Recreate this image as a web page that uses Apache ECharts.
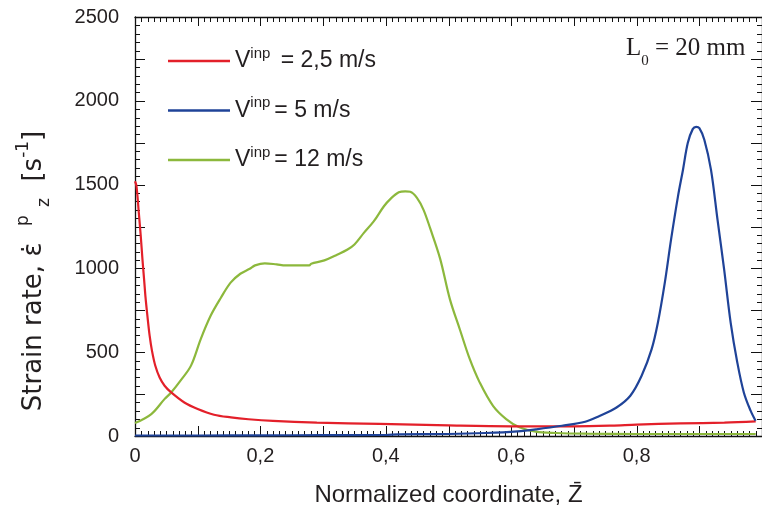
<!DOCTYPE html>
<html>
<head>
<meta charset="utf-8">
<script src="https://cdn.jsdelivr.net/npm/echarts@6/dist/echarts.min.js"></script>
<style>html,body{margin:0;padding:0;background:#fff}#c{width:762px;height:512px}</style>
</head>
<body>
<div id="c"></div>
<script>
// ---- data ----
const redX = [0, 0.0024, 0.0061, 0.0092, 0.0119, 0.0145, 0.0166, 0.0198, 0.0234, 0.0271, 0.0324, 0.0393, 0.0472, 0.0577, 0.0787, 0.100, 0.126, 0.153, 0.181, 0.22, 0.29, 0.39, 0.50, 0.60, 0.70, 0.76, 0.80, 0.87, 0.94, 0.99];
const redY = [1520, 1490, 1331, 1192, 1054, 935, 835, 716, 597, 508, 419, 349, 300, 260, 200, 161, 127, 111, 100, 90, 80, 72, 63, 58, 58, 62, 68, 75, 80, 87];

const blueX = [0, 0.1, 0.2, 0.3, 0.4, 0.42, 0.5, 0.56, 0.61, 0.64, 0.681, 0.718, 0.74, 0.768, 0.79, 0.808, 0.824, 0.834, 0.845, 0.855, 0.866, 0.874, 0.8816, 0.8895, 0.895, 0.9001, 0.908, 0.9186, 0.929, 0.9396, 0.950, 0.9606, 0.971, 0.9818, 0.9897];
const blueY = [3, 3, 4, 5, 6, 10, 12, 18, 28, 40, 61, 85, 118, 170, 240, 359, 518, 677, 915, 1173, 1430, 1589, 1748, 1831, 1845, 1837, 1768, 1589, 1292, 994, 677, 439, 260, 151, 91];

const greenX = [0, 0.026, 0.047, 0.0577, 0.0735, 0.0893, 0.105, 0.121, 0.137, 0.1525, 0.168, 0.183, 0.1915, 0.207, 0.226, 0.24, 0.26, 0.278, 0.281, 0.302, 0.323, 0.339, 0.35, 0.365, 0.381, 0.397, 0.4075, 0.4207, 0.431, 0.439, 0.4497, 0.46, 0.4707, 0.4865, 0.5023, 0.518, 0.534, 0.5497, 0.571, 0.592, 0.613, 0.639, 0.671, 0.72, 0.8, 0.9, 0.99];
const greenY = [77, 131, 220, 260, 335, 420, 580, 720, 825, 915, 968, 998, 1018, 1030, 1024, 1018, 1018, 1018, 1028, 1048, 1083, 1113, 1143, 1212, 1282, 1371, 1415, 1454, 1460, 1457, 1421, 1351, 1240, 1060, 815, 637, 458, 320, 180, 101, 52, 26, 18, 14, 12, 12, 12];

const seriesNames = ['V2.5', 'V5', 'V12'];
const legendValues = [' = 2,5 m/s', '= 5 m/s', '= 12 m/s'];
const seriesColors = ['#e3202a', '#1f4398', '#8cb83c'];

const xTickValues = [0, 0.2, 0.4, 0.6, 0.8];
const xTickLabels = ['0', '0,2', '0,4', '0,6', '0,8'];
const yTickValues = [0, 500, 1000, 1500, 2000, 2500];
const yTickLabels = ['0', '500', '1000', '1500', '2000', '2500'];

// axis ranges and tick spacing
const xRange = [0, 1], xMajorStep = 0.1, xMinorPerMajor = 10;
const yRange = [0, 2500], yMajorStep = 250, yMinorPerMajor = 5;

const zip = (xs, ys) => xs.map((x, i) => [x, ys[i]]);
const FONT = "'Liberation Sans', Arial, sans-serif";
const WIDE = "'DejaVu Sans', 'Liberation Sans', sans-serif";
const SERIF = "'Liberation Serif', 'Times New Roman', serif";
const TXT = '#231f20';
const TICK = '#111';

const chart = echarts.init(document.getElementById('c'), null, {renderer: 'canvas'});

function xLab(v) {
  const i = xTickValues.findIndex(t => Math.abs(t - v) < 1e-6);
  return i >= 0 ? xTickLabels[i] : '';
}
function yLab(v) {
  const i = yTickValues.findIndex(t => Math.abs(t - v) < 1e-6);
  return i >= 0 ? yTickLabels[i] : '';
}

// inside tick marks on all four sides, positioned through the axes' own scales
function renderFrameTicks(params, api) {
  const cs = params.coordSys;
  const left = cs.x, right = cs.x + cs.width, top = cs.y, bottom = cs.y + cs.height;
  const st = {stroke: TICK, lineWidth: 1};
  const kids = [];
  const nx = Math.round((xRange[1] - xRange[0]) / xMajorStep) * xMinorPerMajor;
  for (let i = 0; i <= nx; i++) {
    const v = xRange[0] + i * xMajorStep / xMinorPerMajor;
    const major = i % xMinorPerMajor === 0;
    const x = Math.round(api.coord([v, yRange[0]])[0]) + 0.5;
    kids.push({type: 'line', shape: {x1: x, y1: bottom, x2: x, y2: bottom - (major ? 10 : 5)}, style: st});
    kids.push({type: 'line', shape: {x1: x, y1: top, x2: x, y2: top + (major ? 9 : 5)}, style: st});
  }
  const ny = Math.round((yRange[1] - yRange[0]) / yMajorStep) * yMinorPerMajor;
  for (let j = 0; j <= ny; j++) {
    const v = yRange[0] + j * yMajorStep / yMinorPerMajor;
    const major = j % yMinorPerMajor === 0;
    const y = Math.round(api.coord([xRange[0], v])[1]) + 0.5;
    kids.push({type: 'line', shape: {x1: left, y1: y, x2: left + (major ? 10 : 5), y2: y}, style: st});
    kids.push({type: 'line', shape: {x1: right, y1: y, x2: right - (major ? 11 : 5), y2: y}, style: st});
  }
  return {type: 'group', children: kids};
}

function axisBase(extra) {
  return Object.assign({
    type: 'value',
    axisLine: {show: true, onZero: false, lineStyle: {color: TICK, width: 1.3}},
    axisTick: {show: false},
    minorTick: {show: false},
    splitLine: {show: false},
    minorSplitLine: {show: false}
  }, extra);
}

const option = {
  animation: false,
  backgroundColor: '#fff',
  grid: {left: 135, top: 17, width: 633, height: 420, containLabel: false},
  xAxis: [
    axisBase({
      min: xRange[0], max: xRange[1], interval: xMajorStep, position: 'bottom',
      axisLabel: {show: true, margin: 10, fontSize: 20, fontFamily: FONT, color: TXT, formatter: xLab, showMaxLabel: false},
      name: 'Normalized coordinate, Z\u0304', nameLocation: 'middle', nameGap: 47,
      nameTextStyle: {fontSize: 24, fontFamily: FONT, color: TXT}
    }),
    axisBase({
      min: xRange[0], max: xRange[1], interval: xMajorStep, position: 'top',
      axisLabel: {show: false}
    })
  ],
  yAxis: [
    axisBase({
      min: yRange[0], max: yRange[1], interval: yMajorStep, position: 'left',
      axisLabel: {show: true, margin: 16, fontSize: 20, fontFamily: FONT, color: TXT, formatter: yLab}
    }),
    axisBase({
      min: yRange[0], max: yRange[1], interval: yMajorStep, position: 'right',
      axisLabel: {show: false}
    })
  ],
  legend: {
    orient: 'vertical', left: 168, top: 46, padding: 0,
    itemWidth: 62, itemHeight: 2.5, itemGap: 23, icon: 'rect',
    data: seriesNames,
    formatter: function (name) {
      const i = seriesNames.indexOf(name);
      return '{v|V}{sup|inp}{t|' + legendValues[i] + '}';
    },
    textStyle: {
      fontFamily: FONT, color: TXT, fontSize: 23,
      rich: {
        v: {fontSize: 23, fontFamily: FONT, color: TXT, lineHeight: 30},
        sup: {fontSize: 15, fontFamily: FONT, color: TXT, lineHeight: 14, verticalAlign: 'top'},
        t: {fontSize: 23, fontFamily: FONT, color: TXT, lineHeight: 30, padding: [0, 0, 0, 4]}
      }
    }
  },
  graphic: [
    {
      type: 'text', x: 34, y: 271, rotation: Math.PI / 2, z: 100,
      style: {
        text: '{a|Strain rate, \u03b5\u0307  }{sup|p}{a| }{sub|z}{a|  [s}{sup|-1}{a|]}',
        align: 'center', verticalAlign: 'middle',
        rich: {
          a: {fontSize: 26, fontFamily: WIDE, fill: TXT, lineHeight: 38},
          sup: {fontSize: 17, fontFamily: WIDE, fill: TXT, lineHeight: 17, verticalAlign: 'top'},
          sub: {fontSize: 17, fontFamily: WIDE, fill: TXT, lineHeight: 17, verticalAlign: 'bottom'}
        }
      }
    },
    {
      type: 'text', x: 626, y: 48, z: 100,
      style: {
        text: '{l|L}{s|0}{l| = 20 mm}',
        align: 'left', verticalAlign: 'middle',
        rich: {
          l: {fontSize: 25, fontFamily: SERIF, fill: TXT, lineHeight: 42},
          s: {fontSize: 15, fontFamily: SERIF, fill: TXT, lineHeight: 15, verticalAlign: 'bottom'}
        }
      }
    }
  ],
  series: [
    {name: seriesNames[0], type: 'line', data: zip(redX, redY), showSymbol: false, symbol: 'none', smooth: 0.35, lineStyle: {color: seriesColors[0], width: 2.2}, itemStyle: {color: seriesColors[0]}, z: 3},
    {name: seriesNames[1], type: 'line', data: zip(blueX, blueY), showSymbol: false, symbol: 'none', smooth: 0.35, lineStyle: {color: seriesColors[1], width: 2.2}, itemStyle: {color: seriesColors[1]}, z: 4},
    {name: seriesNames[2], type: 'line', data: zip(greenX, greenY), showSymbol: false, symbol: 'none', smooth: 0.35, lineStyle: {color: seriesColors[2], width: 2.2}, itemStyle: {color: seriesColors[2]}, z: 2},
    {name: 'frameTicks', type: 'custom', data: [[xRange[0], yRange[0]]], renderItem: renderFrameTicks, silent: true, clip: false, z: 1, tooltip: {show: false}}
  ]
};
chart.setOption(option);
</script>
</body>
</html>
